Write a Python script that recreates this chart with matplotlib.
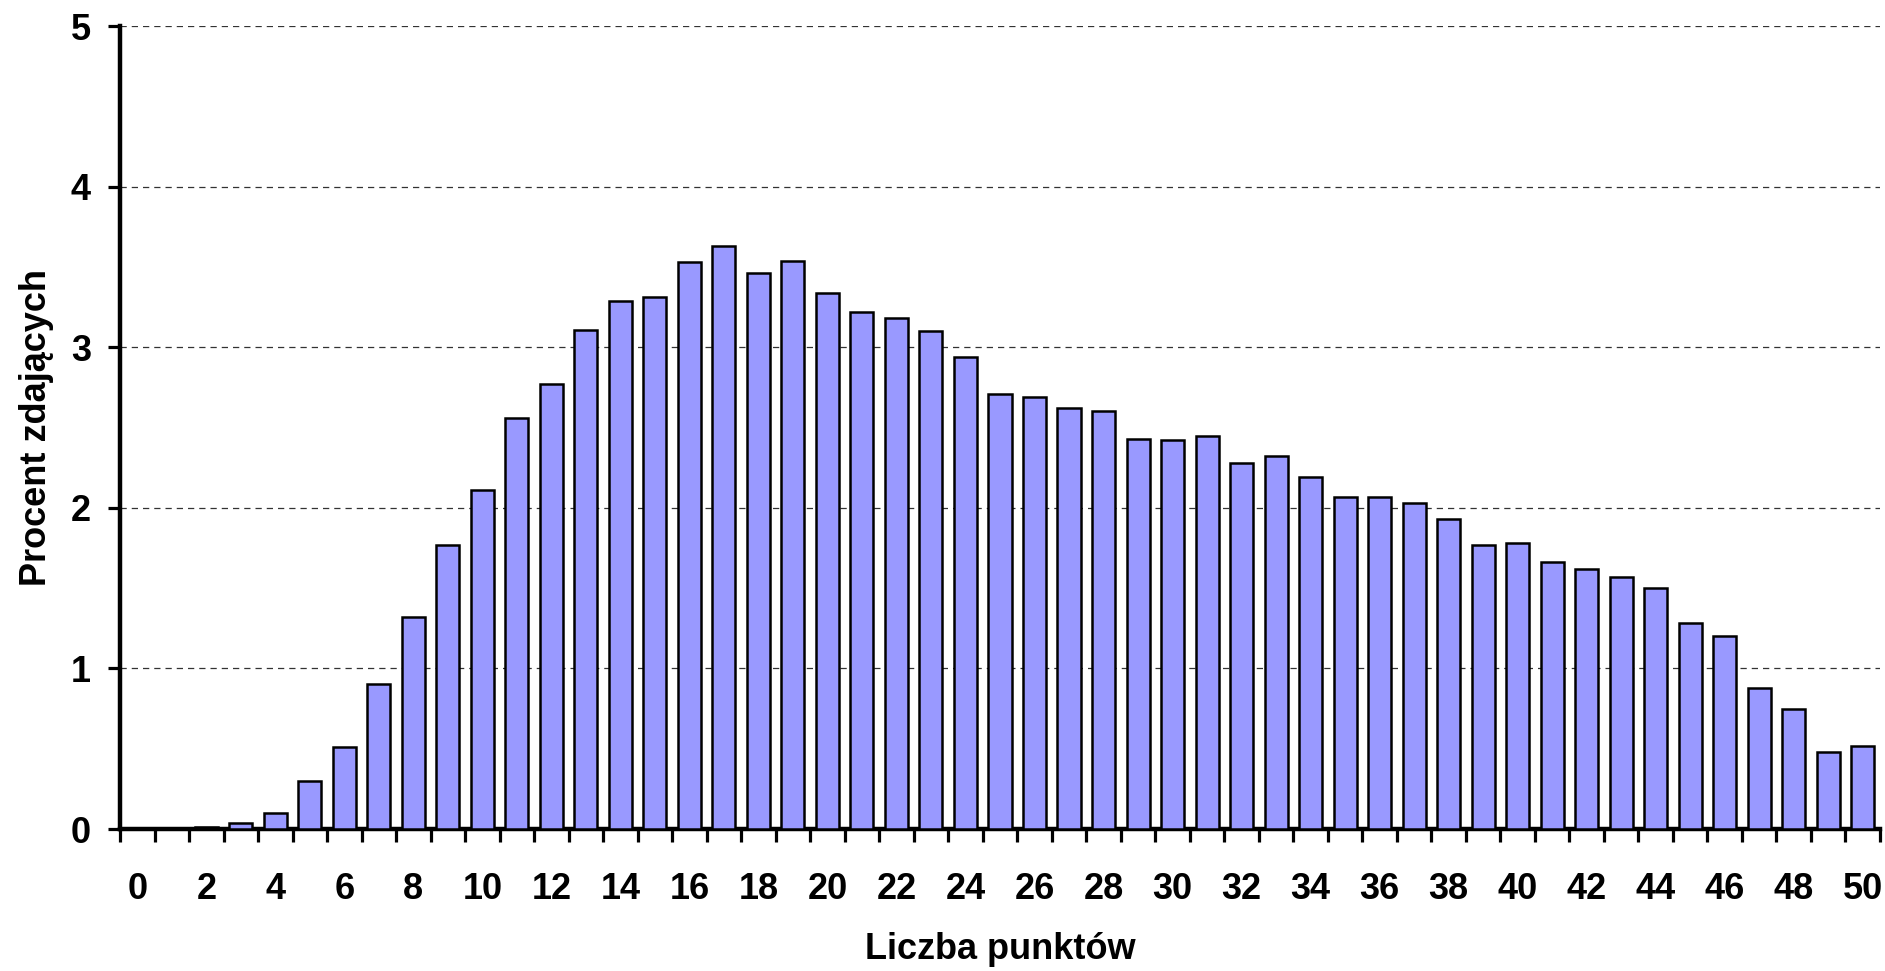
import matplotlib
matplotlib.use("Agg")
import matplotlib.pyplot as plt
import numpy as np

points = list(range(0, 51))
percent = [0.0, 0.005, 0.01, 0.04, 0.10, 0.30, 0.51, 0.90, 1.32, 1.77,
           2.11, 2.56, 2.77, 3.11, 3.29, 3.31, 3.53, 3.63, 3.46, 3.54,
           3.34, 3.22, 3.18, 3.10, 2.94, 2.71, 2.69, 2.62, 2.60, 2.43,
           2.42, 2.45, 2.28, 2.32, 2.19, 2.07, 2.07, 2.03, 1.93, 1.77,
           1.78, 1.66, 1.62, 1.57, 1.50, 1.28, 1.20, 0.88, 0.75, 0.48,
           0.52]
y_ticks = [0, 1, 2, 3, 4, 5]
x_label = "Liczba punktów"
y_label = "Procent zdających"

plt.rcParams['font.family'] = ['Liberation Sans', 'DejaVu Sans']
plt.rcParams['font.weight'] = 'bold'

FS = 26

fig = plt.figure(figsize=(18.85, 9.71), dpi=100)
ax = fig.add_axes([0.0637, 0.1462, 0.9336, 0.827])

ax.bar(points, percent, width=0.667, color='#9999FF', edgecolor='black',
       linewidth=1.8, zorder=3)

ax.set_xlim(-0.5, 50.5)
ax.set_ylim(0, 5)

for y in y_ticks[1:]:
    ax.axhline(y, color='#333333', linewidth=0.9, linestyle=(0, (5, 4)), zorder=1)

ax.set_yticks(y_ticks)
ax.set_yticklabels([str(v) for v in y_ticks], fontsize=FS, fontweight='bold')

# ticks at category boundaries, labels at even categories
ax.set_xticks(np.arange(-0.5, 51, 1.0))
ax.set_xticklabels([])
ax.set_xticks(points[::2], minor=True)
ax.set_xticklabels([str(p) for p in points[::2]], minor=True, fontsize=FS, fontweight='bold')
ax.tick_params(axis='x', which='minor', length=0, pad=31)
ax.tick_params(axis='x', which='major', direction='out', length=9, width=2.3)
ax.tick_params(axis='y', direction='out', length=9, width=2.3, pad=12)

for s in ['top', 'right']:
    ax.spines[s].set_visible(False)
for s in ['left', 'bottom']:
    ax.spines[s].set_linewidth(3.2)

ax.set_xlabel(x_label, fontsize=FS, fontweight='bold', labelpad=18)
ax.set_ylabel(y_label, fontsize=FS, fontweight='bold', labelpad=12)

fig.savefig("out.png", dpi=100)
